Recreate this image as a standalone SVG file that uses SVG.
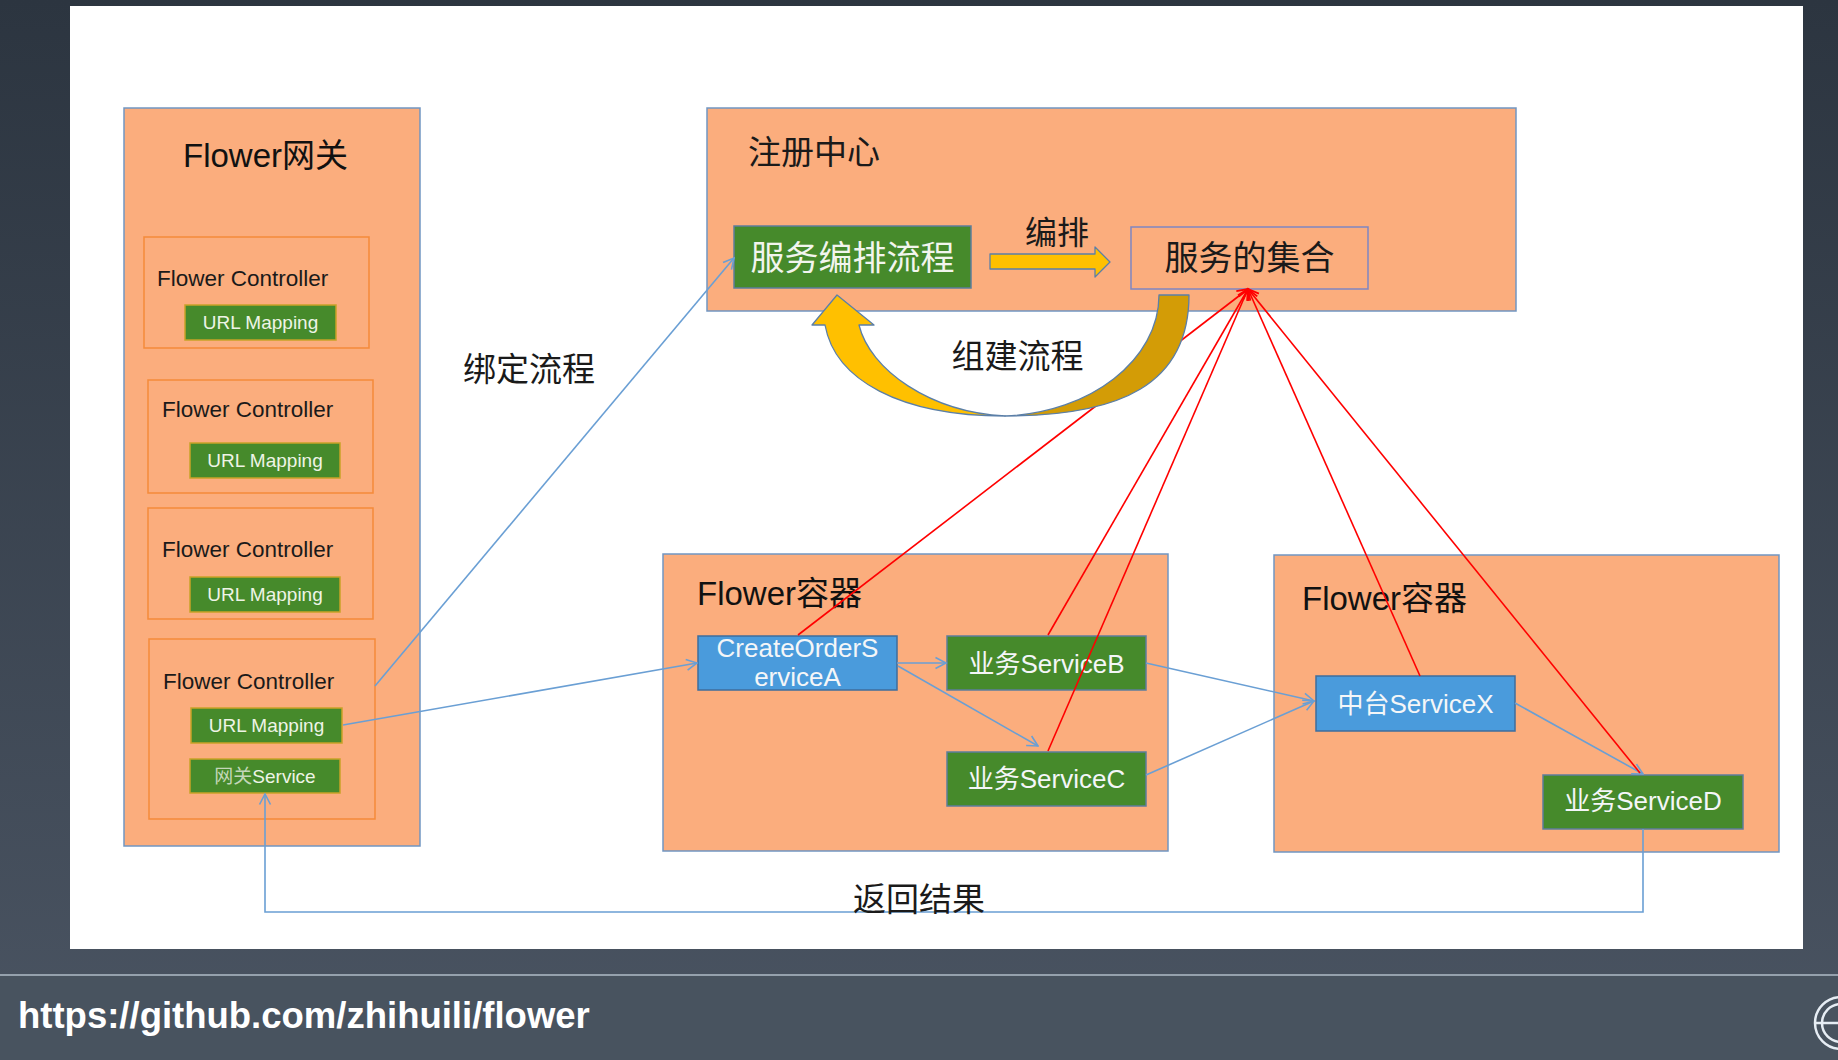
<svg xmlns="http://www.w3.org/2000/svg" width="1838" height="1060" viewBox="0 0 1838 1060">
  <defs>
    <linearGradient id="bg" x1="0" y1="0" x2="0" y2="1">
      <stop offset="0" stop-color="#2c3540"/>
      <stop offset="1" stop-color="#4a5462"/>
    </linearGradient>
    <marker id="ab" viewBox="0 0 14 14" refX="12.5" refY="7" markerWidth="14" markerHeight="14" orient="auto" markerUnits="userSpaceOnUse">
      <path d="M2,1.5 L12.5,7 L2,12.5" fill="none" stroke="#6a9fd4" stroke-width="1.6"/>
    </marker>
    <marker id="ar" viewBox="0 0 14 14" refX="12.5" refY="7" markerWidth="14" markerHeight="14" orient="auto" markerUnits="userSpaceOnUse">
      <path d="M2,1.5 L12.5,7 L2,12.5" fill="none" stroke="#ff0000" stroke-width="1.8"/>
    </marker>
    <style>
      .lat { font-family: "Liberation Sans", "Noto Sans CJK SC", sans-serif; }
      .cjk { font-family: "Noto Sans CJK SC", "Liberation Sans", sans-serif; }
      .panel { fill: #fbad7d; stroke: #7196c2; stroke-width: 1.5; }
      .ctrl { fill: #fbad7d; stroke: #f58a3a; stroke-width: 1.5; }
      .url { fill: #468a2b; stroke: #c9a227; stroke-width: 1.5; }
      .gsvc { fill: #468a2b; stroke: #5d7d9c; stroke-width: 1.5; }
      .bsvc { fill: #4a9bdc; stroke: #3f6d9c; stroke-width: 1.5; }
      .title { fill: #111111; font-size: 33px; }
      .ctl-t { fill: #1a1a1a; font-size: 22.5px; }
      .url-t { fill: #eef4e6; font-size: 19px; text-anchor: middle; }
      .svc-t { fill: #f4f6f8; font-size: 26px; text-anchor: middle; }
      .big { fill: #1a1a1a; font-size: 33px; }
      .blue { fill: none; stroke: #6a9fd4; stroke-width: 1.6; }
      .red { fill: none; stroke: #ff0000; stroke-width: 1.6; }
      .block { stroke: #5b7fa8; stroke-width: 1.3; stroke-linejoin: round; }
    </style>
  </defs>

  <!-- background / slide frame -->
  <rect x="0" y="0" width="1838" height="1060" fill="url(#bg)"/>
  <rect x="0" y="975" width="1838" height="85" fill="#48535f"/>
  <line x1="0" y1="975" x2="1838" y2="975" stroke="#95a1ad" stroke-width="2"/>
  <rect x="70" y="6" width="1733" height="943" fill="#ffffff"/>

  <!-- gateway -->
  <g id="gateway">
    <rect class="panel" x="124" y="108" width="296" height="738"/>
    <text class="lat title" x="183" y="167">Flower网关</text>
  </g>
  <g id="controller1">
    <rect class="ctrl" x="144" y="237" width="225" height="111"/>
    <text class="lat ctl-t" x="157" y="286">Flower Controller</text>
  </g>
  <g id="url1">
    <rect class="url" x="185" y="305" width="151" height="35"/>
    <text class="lat url-t" x="260.5" y="329">URL Mapping</text>
  </g>
  <g id="controller2">
    <rect class="ctrl" x="148" y="380" width="225" height="113"/>
    <text class="lat ctl-t" x="162" y="417">Flower Controller</text>
  </g>
  <g id="url2">
    <rect class="url" x="190" y="443" width="150" height="35"/>
    <text class="lat url-t" x="265" y="467">URL Mapping</text>
  </g>
  <g id="controller3">
    <rect class="ctrl" x="148" y="508" width="225" height="111"/>
    <text class="lat ctl-t" x="162" y="557">Flower Controller</text>
  </g>
  <g id="url3">
    <rect class="url" x="190" y="577" width="150" height="35"/>
    <text class="lat url-t" x="265" y="601">URL Mapping</text>
  </g>
  <g id="controller4">
    <rect class="ctrl" x="149" y="639" width="226" height="180"/>
    <text class="lat ctl-t" x="163" y="689">Flower Controller</text>
  </g>
  <g id="url4">
    <rect class="url" x="191" y="708" width="151" height="35"/>
    <text class="lat url-t" x="266.5" y="732">URL Mapping</text>
  </g>
  <g id="gateway-service">
    <rect class="url" x="190" y="759" width="150" height="34"/>
    <text class="lat url-t" x="265" y="783"><tspan fill="#c3d6b8">网关</tspan>Service</text>
  </g>

  <!-- registry -->
  <g id="registry">
    <rect class="panel" x="707" y="108" width="809" height="203"/>
    <text class="cjk big" x="748" y="164">注册中心</text>
  </g>
  <g id="orchestration-flow">
    <rect x="734" y="226" width="237" height="62" fill="#468a2b" stroke="#5d7d9c" stroke-width="1.5"/>
    <text class="cjk" x="852.5" y="270" fill="#f2f5ee" font-size="34" text-anchor="middle">服务编排流程</text>
  </g>
  <g id="service-set">
    <rect x="1131" y="227" width="237" height="62" fill="#fbad7d" stroke="#7f86c2" stroke-width="1.5"/>
    <text class="cjk" x="1249.5" y="270" fill="#1a1a1a" font-size="34" text-anchor="middle">服务的集合</text>
  </g>

  <!-- container 1 -->
  <g id="container1">
    <rect class="panel" x="663" y="554" width="505" height="297"/>
    <text class="lat title" x="697" y="605">Flower容器</text>
  </g>
  <g id="serviceA">
    <rect class="bsvc" x="698" y="636" width="199" height="54"/>
    <text class="lat svc-t" x="797.5" y="657">CreateOrderS</text>
    <text class="lat svc-t" x="797.5" y="686">erviceA</text>
  </g>
  <g id="serviceB">
    <rect class="gsvc" x="947" y="636" width="199" height="54"/>
    <text class="lat svc-t" x="1046.5" y="673">业务ServiceB</text>
  </g>
  <g id="serviceC">
    <rect class="gsvc" x="947" y="752" width="199" height="54"/>
    <text class="lat svc-t" x="1046.5" y="788">业务ServiceC</text>
  </g>

  <!-- container 2 -->
  <g id="container2">
    <rect class="panel" x="1274" y="555" width="505" height="297"/>
    <text class="lat title" x="1302" y="610">Flower容器</text>
  </g>
  <g id="serviceX">
    <rect class="bsvc" x="1316" y="676" width="199" height="55"/>
    <text class="lat svc-t" x="1415.5" y="713">中台ServiceX</text>
  </g>
  <g id="serviceD">
    <rect class="gsvc" x="1543" y="775" width="200" height="54"/>
    <text class="lat svc-t" x="1643" y="810">业务ServiceD</text>
  </g>

  <!-- connectors -->
  <g id="connectors">
    <path class="blue" d="M375,686 L734,258" marker-end="url(#ab)"/>
    <path class="blue" d="M343,725 L697,663" marker-end="url(#ab)"/>
    <path class="blue" d="M897,663 L946,663" marker-end="url(#ab)"/>
    <path class="blue" d="M898,666 L1038,746" marker-end="url(#ab)"/>
    <path class="blue" d="M1146,663 L1314,701" marker-end="url(#ab)"/>
    <path class="blue" d="M1146,775 L1314,701" marker-end="url(#ab)"/>
    <path class="blue" d="M1515,703 L1643,774" marker-end="url(#ab)"/>
    <path class="blue" d="M1643,829 L1643,912 L265,912 L265,794" marker-end="url(#ab)"/>

    <path class="red" d="M798,635 L1248,289" marker-end="url(#ar)"/>
    <path class="red" d="M1048,635 L1248,289" marker-end="url(#ar)"/>
    <path class="red" d="M1048,751 L1248,289" marker-end="url(#ar)"/>
    <path class="red" d="M1420,676 L1248,289" marker-end="url(#ar)"/>
    <path class="red" d="M1640,773 L1248,289" marker-end="url(#ar)"/>

    <!-- 编排 block arrow -->
    <path class="block" fill="#ffc000" d="M990,254 L1095,254 L1095,247 L1110,262 L1095,277 L1095,269 L990,269 Z"/>
    <!-- 组建流程 curved arrow -->
    <path class="block" fill="#d39c06" d="M1159,295 L1189,295 C1189,385 1120,416 1005,416 C1090,413 1159,360 1159,295 Z"/>
    <path class="block" fill="#ffc000" d="M837,295 L874,325 L859,325 C870,370 930,412 1005,416 C900,416 835,380 825,325 L812,325 Z"/>
  </g>

  <!-- free labels -->
  <text class="cjk" x="1057" y="244" fill="#1a1a1a" font-size="32" text-anchor="middle">编排</text>
  <text class="cjk big" x="1017.5" y="368" text-anchor="middle">组建流程</text>
  <text class="cjk big" x="529" y="381" text-anchor="middle">绑定流程</text>
  <text class="cjk big" x="919" y="911" text-anchor="middle">返回结果</text>

  <!-- footer -->
  <text x="18" y="1028" font-family="Liberation Sans, sans-serif" font-weight="bold" font-size="36.5" fill="#ffffff">https://github.com/zhihuili/flower</text>
  <g fill="none" stroke="#e6edf4" stroke-width="2.5">
    <circle cx="1841" cy="1023" r="26"/>
    <circle cx="1841" cy="1023" r="19"/>
    <line x1="1815" y1="1023" x2="1838" y2="1023"/>
  </g>
</svg>
